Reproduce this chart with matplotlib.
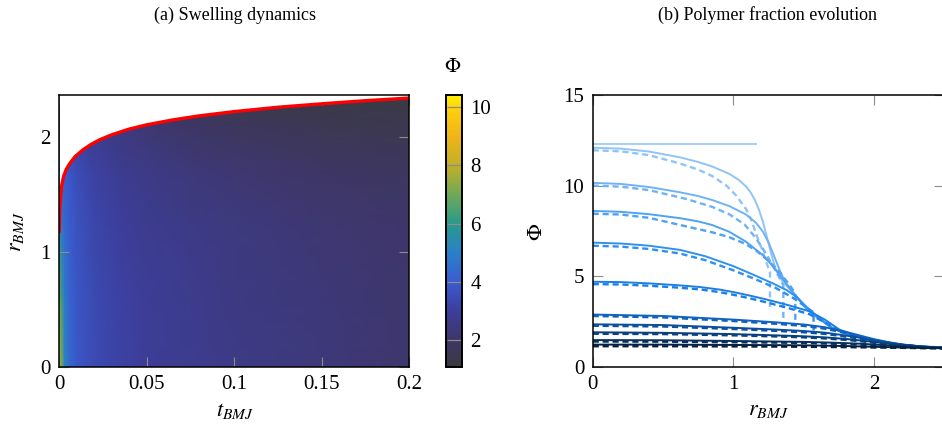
import numpy as np
import matplotlib
matplotlib.use("Agg")
import matplotlib.pyplot as plt
from matplotlib.colors import LinearSegmentedColormap, Normalize
from matplotlib.cm import ScalarMappable

plt.rcParams['font.family'] = ['Liberation Serif', 'DejaVu Serif']
plt.rcParams['mathtext.fontset'] = 'stix'

# ---- (a) swelling front
t_front = [0, 0.0001, 0.0003, 0.0006, 0.001, 0.0015, 0.0025, 0.004, 0.006, 0.009,
           0.0136, 0.018, 0.0231, 0.03, 0.04, 0.05, 0.065, 0.08, 0.1, 0.125, 0.15,
           0.175, 0.2]
r_front = [1.165, 1.28, 1.38, 1.45, 1.53, 1.59, 1.66, 1.72, 1.77, 1.83,
           1.89, 1.935, 1.977, 2.02, 2.07, 2.107, 2.15, 2.185, 2.222, 2.26, 2.29,
           2.317, 2.34]

# polymer fraction field Phi(t, r), rough reading of the colours
t_grid = [0, 0.001, 0.003, 0.006, 0.01, 0.02, 0.035, 0.05, 0.075, 0.1, 0.15, 0.2]
r_grid = [0, 0.6, 1.2, 1.7, 2.1, 2.36]
phi_r00 = [8.0, 7.4, 5.2, 4.3, 3.85, 3.45, 3.15, 2.95, 2.75, 2.6, 2.35, 2.15]
phi_r06 = [7.5, 6.4, 4.9, 4.2, 3.8, 3.4, 3.1, 2.9, 2.7, 2.55, 2.3, 2.1]
phi_r12 = [5.5, 4.9, 4.4, 4.0, 3.7, 3.3, 3.0, 2.8, 2.6, 2.45, 2.2, 2.05]
phi_r17 = [4.2, 4.1, 4.0, 3.8, 3.5, 3.1, 2.8, 2.6, 2.35, 2.2, 1.95, 1.8]
phi_r21 = [3.0, 3.0, 3.0, 3.0, 2.95, 2.75, 2.45, 2.2, 1.95, 1.75, 1.55, 1.45]
phi_r24 = [2.0, 2.0, 2.0, 2.0, 2.0, 1.9, 1.75, 1.6, 1.45, 1.35, 1.25, 1.18]

cmap_vals = [1.1, 2, 3, 4, 5, 6, 7, 8, 9, 10, 10.4]
cmap_cols = ['#3a3a40', '#3e3668', '#3c3e9c', '#3a5cd0', '#2a80c8', '#289a8c',
             '#70a858', '#c0b028', '#f0b418', '#ffd20c', '#fff000']

# ---- (b) profiles Phi(r), solid and dashed, light (early) to dark (late)
r_s0 = [0, 1.16]
p_s0 = [12.28, 12.28]

r_s1 = [0, 0.2, 0.4, 0.62, 0.75, 0.85, 0.97, 1.04, 1.09, 1.12, 1.15, 1.18, 1.21, 1.24,
        1.27, 1.3, 1.34, 1.38, 1.45, 1.52, 1.6, 1.7, 1.8, 1.9, 2.0, 2.2, 2.5]
p_s1 = [12.09, 12.04, 11.88, 11.56, 11.3, 11.05, 10.65, 10.3, 9.95, 9.65, 9.25, 8.7, 8.0, 7.1,
        6.2, 5.4, 4.8, 4.45, 3.85, 3.2, 2.7, 2.15, 1.85, 1.62, 1.42, 1.2, 1.03]
r_d1 = [0, 0.2, 0.4, 0.62, 0.75, 0.85, 0.95, 1.02, 1.09, 1.13, 1.16, 1.2, 1.23, 1.26, 1.26]
p_d1 = [11.95, 11.89, 11.68, 11.22, 10.88, 10.52, 10.0, 9.45, 8.7, 8.05, 7.35, 6.55, 5.85,
        5.2, 3.3]

r_s2 = [0, 0.2, 0.4, 0.62, 0.75, 0.85, 0.97, 1.09, 1.16, 1.21, 1.25, 1.29, 1.33, 1.38,
        1.45, 1.52, 1.6, 1.7, 1.8, 1.9, 2.0, 2.2, 2.5]
p_s2 = [10.15, 10.09, 9.92, 9.63, 9.42, 9.2, 8.87, 8.4, 7.95, 7.45, 6.85, 6.1, 5.3, 4.5,
        3.85, 3.2, 2.7, 2.15, 1.85, 1.62, 1.42, 1.2, 1.03]
r_d2 = [0, 0.2, 0.4, 0.67, 0.85, 0.97, 1.08, 1.16, 1.235, 1.3, 1.355, 1.355]
p_d2 = [10.0, 9.94, 9.75, 9.25, 8.82, 8.42, 7.85, 7.1, 6.2, 5.3, 4.5, 2.6]

r_s3 = [0, 0.2, 0.4, 0.62, 0.75, 0.85, 0.97, 1.09, 1.21, 1.28, 1.34, 1.4, 1.45, 1.52,
        1.6, 1.7, 1.8, 1.9, 2.0, 2.2, 2.5]
p_s3 = [8.6, 8.55, 8.42, 8.2, 8.02, 7.82, 7.45, 6.9, 6.15, 5.55, 4.95, 4.35, 3.85, 3.2,
        2.7, 2.15, 1.85, 1.62, 1.42, 1.2, 1.03]
r_d3 = [0, 0.2, 0.4, 0.69, 0.85, 0.97, 1.08, 1.16, 1.25, 1.33, 1.4, 1.44, 1.44]
p_d3 = [8.45, 8.4, 8.22, 7.7, 7.42, 7.15, 6.8, 6.42, 5.85, 5.2, 4.5, 4.05, 2.4]

r_s4 = [0, 0.2, 0.4, 0.62, 0.8, 1.0, 1.15, 1.28, 1.38, 1.45, 1.52, 1.6, 1.7, 1.8, 1.9,
        2.0, 2.2, 2.5]
p_s4 = [6.85, 6.8, 6.68, 6.45, 6.1, 5.55, 5.05, 4.6, 4.22, 3.85, 3.3, 2.75, 2.15, 1.85, 1.62,
        1.42, 1.2, 1.03]
r_d4 = [0, 0.2, 0.4, 0.62, 0.8, 1.0, 1.15, 1.3, 1.42, 1.5, 1.57, 1.57]
p_d4 = [6.68, 6.63, 6.5, 6.25, 5.88, 5.32, 4.85, 4.35, 3.82, 3.38, 3.0, 2.0]

r_s5 = [0, 0.2, 0.4, 0.6, 0.76, 0.9, 1.0, 1.12, 1.23, 1.38, 1.54, 1.65, 1.755, 1.85,
        1.945, 2.05, 2.18, 2.3, 2.5]
p_s5 = [4.69, 4.67, 4.6, 4.5, 4.4, 4.26, 4.12, 3.92, 3.72, 3.42, 3.06, 2.6, 2.04, 1.78,
        1.58, 1.4, 1.22, 1.13, 1.07]
p_d5 = [4.56, 4.54, 4.47, 4.37, 4.27, 4.12, 3.97, 3.77, 3.56, 3.26, 2.9, 2.45, 1.95, 1.72,
        1.52, 1.35, 1.18, 1.1, 1.05]

r_low = [0, 0.5, 1.0, 1.3, 1.5, 1.65, 1.8, 1.9, 2.0, 2.1, 2.2, 2.35, 2.5]
p_s6 = [2.88, 2.8, 2.6, 2.45, 2.33, 2.18, 1.92, 1.72, 1.52, 1.36, 1.23, 1.1, 1.04]
p_d6 = [2.8, 2.72, 2.52, 2.37, 2.25, 2.1, 1.85, 1.66, 1.47, 1.32, 1.2, 1.08, 1.03]
p_s7 = [2.34, 2.3, 2.15, 2.05, 1.97, 1.88, 1.72, 1.6, 1.45, 1.33, 1.22, 1.1, 1.04]
p_d7 = [2.26, 2.22, 2.08, 1.98, 1.9, 1.81, 1.66, 1.55, 1.41, 1.3, 1.19, 1.08, 1.03]
p_s8 = [1.9, 1.87, 1.8, 1.73, 1.68, 1.62, 1.53, 1.45, 1.36, 1.28, 1.2, 1.1, 1.04]
p_d8 = [1.82, 1.8, 1.73, 1.67, 1.62, 1.56, 1.48, 1.41, 1.32, 1.25, 1.17, 1.08, 1.03]
p_s9 = [1.47, 1.46, 1.42, 1.39, 1.37, 1.34, 1.3, 1.27, 1.22, 1.18, 1.13, 1.07, 1.03]
p_d9 = [1.39, 1.38, 1.35, 1.33, 1.31, 1.28, 1.25, 1.22, 1.18, 1.14, 1.1, 1.05, 1.02]
p_s10 = [1.22, 1.22, 1.2, 1.19, 1.18, 1.16, 1.14, 1.12, 1.1, 1.08, 1.06, 1.03, 1.02]
p_d10 = [1.13, 1.13, 1.12, 1.11, 1.1, 1.09, 1.08, 1.07, 1.06, 1.05, 1.04, 1.02, 1.01]

blues = ['#a6d0fa', '#90c4f8', '#70b2f6', '#50a2f4', '#3090f0', '#1a7fe6',
         '#0f62c0', '#0b509e', '#09407e', '#07305e', '#052040']

solid = [(r_s0, p_s0), (r_s1, p_s1), (r_s2, p_s2), (r_s3, p_s3), (r_s4, p_s4),
         (r_s5, p_s5), (r_low, p_s6), (r_low, p_s7), (r_low, p_s8), (r_low, p_s9),
         (r_low, p_s10)]
dashed = [None, (r_d1, p_d1), (r_d2, p_d2), (r_d3, p_d3), (r_d4, p_d4),
          (r_s5, p_d5), (r_low, p_d6), (r_low, p_d7), (r_low, p_d8), (r_low, p_d9),
          (r_low, p_d10)]

fig = plt.figure(figsize=(9.42, 4.28), dpi=100)
W, H = 942.0, 428.0

tick_kw = dict(direction='in', length=7, width=0.8, color='#8c8c8c',
               top=True, right=True, labelsize=15, pad=6)

# ---------------- panel (a)
ax1 = fig.add_axes([59.3 / W, 61.3 / H, 350 / W, 271.3 / H])
cmap = LinearSegmentedColormap.from_list(
    'phi', [((v - cmap_vals[0]) / (cmap_vals[-1] - cmap_vals[0]), c)
            for v, c in zip(cmap_vals, cmap_cols)])
norm = Normalize(cmap_vals[0], cmap_vals[-1])
T, R = np.meshgrid(t_grid, r_grid)
PHI = np.array([phi_r00, phi_r06, phi_r12, phi_r17, phi_r21, phi_r24])
ax1.pcolormesh(T, R, PHI, shading='gouraud', cmap=cmap, norm=norm, zorder=1)
ax1.fill_between(t_front, r_front, 2.5, color='white', lw=0, zorder=2)
ax1.plot(t_front, r_front, color='#ff0000', lw=2.4, zorder=3, solid_capstyle='butt',
         solid_joinstyle='round')
ax1.set_xlim(0, 0.2)
ax1.set_ylim(0, 2.363)
ax1.set_xticks([0, 0.05, 0.1, 0.15, 0.2])
ax1.set_xticklabels(['0', '0.05', '0.1', '0.15', '0.2'])
ax1.set_yticks([0, 1, 2])
ax1.set_yticklabels(['0', '1', '2'])
ax1.tick_params(**tick_kw)
for s in ax1.spines.values():
    s.set_linewidth(1.1)
    s.set_zorder(5)

# colorbar
cax = fig.add_axes([446 / W, 61.3 / H, 16 / W, 271.3 / H])
cb = fig.colorbar(ScalarMappable(norm=norm, cmap=cmap), cax=cax)
cb.set_ticks([2, 4, 6, 8, 10])
cb.set_ticklabels(['2', '4', '6', '8', '10'])
cax.tick_params(direction='in', length=11, width=0.9, color='#8c8c8c',
                labelsize=15, pad=6)
cb.outline.set_linewidth(1.4)
fig.text(453 / W, 1 - 68 / H, r'$\Phi$', ha='center', va='center', fontsize=15)

# ---------------- panel (b)
ax2 = fig.add_axes([592.7 / W, 61.3 / H, 2.5 * 140.7 / W, 271.7 / H])
for i in range(len(solid)):
    rs, ps = solid[i]
    ax2.plot(rs, ps, color=blues[i], lw=1.4, zorder=2 + i, solid_joinstyle='round')
    if dashed[i] is not None:
        rd, pd = dashed[i]
        ax2.plot(rd, pd, color=blues[i], lw=1.7, dashes=(2.6, 1.6), zorder=2 + i)
ax2.set_xlim(0, 2.5)
ax2.set_ylim(0, 15)
ax2.set_xticks([0, 1, 2])
ax2.set_xticklabels(['0', '1', '2'])
ax2.set_yticks([0, 5, 10, 15])
ax2.set_yticklabels(['0', '5', '10', '15'])
ax2.tick_params(**tick_kw)
for s in ax2.spines.values():
    s.set_linewidth(1.1)
    s.set_zorder(20)

# titles and labels
fig.text(235 / W, 1 - 15 / H, '(a) Swelling dynamics', ha='center', va='center', fontsize=13)
fig.text(768 / W, 1 - 15 / H, '(b) Polymer fraction evolution', ha='center', va='center',
         fontsize=13)
fig.text(235 / W, 1 - 411 / H, r'$t_{BMJ}$', ha='center', va='center', fontsize=16)
fig.text(768 / W, 1 - 411 / H, r'$r_{BMJ}$', ha='center', va='center', fontsize=16)
fig.text(17 / W, 1 - 232 / H, r'$r_{BMJ}$', ha='center', va='center', fontsize=16,
         rotation=90)
fig.text(537 / W, 1 - 232 / H, r'$\Phi$', ha='center', va='center', fontsize=16,
         rotation=90)

fig.savefig('out.png', dpi=100)
